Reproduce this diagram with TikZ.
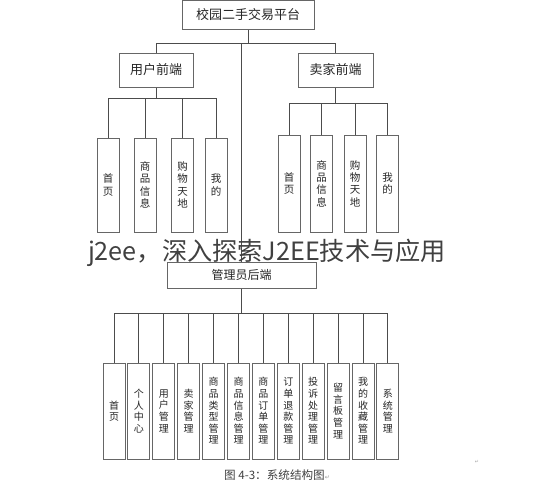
\documentclass[tikz,border=0pt]{standalone}
\usepackage{fontspec}
\newfontfamily\cjk{Noto Sans CJK SC}
\newfontfamily\symf{DejaVu Sans}
\begin{document}
\begin{tikzpicture}[x=1pt,y=-1pt,
  box/.style={draw=black!60, line width=1pt, fill=white, inner sep=0pt, text=black!85,
    font=\cjk\fontsize{13}{15}\selectfont},
  leaf/.style={draw=black!60, line width=1pt, fill=white, inner sep=0pt, minimum width=22pt,
    align=center, text=black!85, font=\cjk\fontsize{10.5}{12.3}\selectfont},
  conn/.style={draw=black!70, line width=1pt}]
\useasboundingbox (0,0) rectangle (538,490);
% bus levels
\coordinate (busT) at (0,43);
\coordinate (busU) at (0,98);
\coordinate (busS) at (0,103);
\coordinate (busA) at (0,313);
% main boxes
\node[box, minimum width=132pt, minimum height=29pt] (top) at (248,15) {校园二手交易平台};
\node[box, minimum width=74pt, minimum height=34pt] (user) at (156,70) {用户前端};
\node[box, minimum width=75pt, minimum height=34pt] (seller) at (335.5,70) {卖家前端};
\node[box, minimum width=149pt, minimum height=26pt, font=\cjk\fontsize{12}{14}\selectfont, text depth=0pt] (admin) at (241.5,275) {\raisebox{2pt}{管理员后端}};
% user leaves
\node[leaf, minimum height=94pt] (u1) at (108,185) {首\\页};
\node[leaf, minimum height=94pt] (u2) at (145,185) {商\\品\\信\\息};
\node[leaf, minimum height=94pt] (u3) at (182.5,185) {购\\物\\天\\地};
\node[leaf, minimum height=94pt] (u4) at (216,185) {我\\的};
% seller leaves
\node[leaf, minimum height=97pt] (s1) at (289,183.5) {首\\页};
\node[leaf, minimum height=97pt] (s2) at (321.5,183.5) {商\\品\\信\\息};
\node[leaf, minimum height=97pt] (s3) at (355,183.5) {购\\物\\天\\地};
\node[leaf, minimum height=97pt] (s4) at (387.5,183.5) {我\\的};
% admin leaves
\foreach \i/\t in {0/{首\\页},1/{个\\人\\中\\心},2/{用\\户\\管\\理},3/{卖\\家\\管\\理},
  4/{商\\品\\类\\型\\管\\理},5/{商\\品\\信\\息\\管\\理},6/{商\\品\\订\\单\\管\\理},
  7/{订\\单\\退\\款\\管\\理},8/{投\\诉\\处\\理\\管\\理},9/{留\\言\\板\\管\\理},
  10/{我\\的\\收\\藏\\管\\理},11/{系\\统\\管\\理}}{
  \node[leaf, minimum height=96pt, font=\cjk\fontsize{10}{11.6}\selectfont] (a\i) at ({114+24.9*\i},411) {\t};
}
% connectors: top level
\draw[conn] (top.south) -- (top.south |- busT);
\draw[conn] (user.north) |- (seller.north |- busT) -- (seller.north);
\draw[conn] (admin.north) -- (admin.north |- busT);
% user level
\draw[conn] (user.south) -- (user.south |- busU);
\draw[conn] (u1.north) |- (u4.north |- busU) -- (u4.north);
\draw[conn] (u2.north) -- (u2.north |- busU);
\draw[conn] (u3.north) -- (u3.north |- busU);
% seller level
\draw[conn] (seller.south) -- (seller.south |- busS);
\draw[conn] (s1.north) |- (s4.north |- busS) -- (s4.north);
\draw[conn] (s2.north) -- (s2.north |- busS);
\draw[conn] (s3.north) -- (s3.north |- busS);
% admin level
\draw[conn] (admin.south) -- (admin.south |- busA);
\draw[conn] (a0.north) |- (a11.north |- busA) -- (a11.north);
\foreach \i in {1,...,10}{
  \draw[conn] (a\i.north) -- (a\i.north |- busA);
}
% caption
\node[inner sep=0pt, text=black!75, font=\cjk\fontsize{11.6}{13}\selectfont] (cap) at (277,475) {图 4-3：系统结构图{\symf\fontsize{6}{7}\selectfont\textcolor{black!40}{↵}}};
\node[inner sep=0pt, text=black!35, font=\symf\fontsize{5}{6}\selectfont] (mark) at (477,462) {↵};
% watermark
\node[inner sep=0pt, text=black!75, font=\cjk\fontsize{25.2}{28}\selectfont] (wm) at (267,253) {j2ee，深入探索J2EE技术与应用};
\end{tikzpicture}
\end{document}
